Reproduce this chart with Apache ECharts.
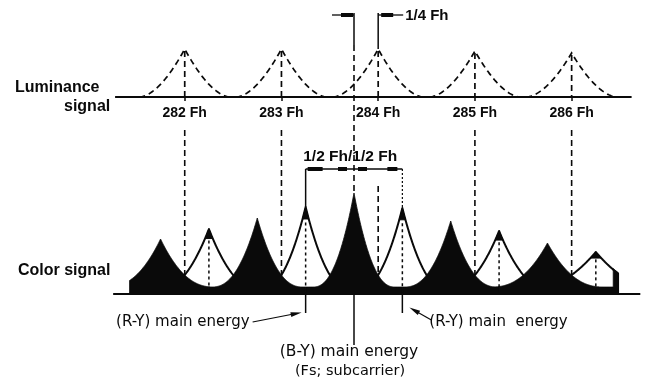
<!DOCTYPE html>
<html>
<head>
<meta charset="utf-8">
<script src="https://cdn.jsdelivr.net/npm/echarts@6/dist/echarts.min.js"></script>
<style>
  html, body { margin: 0; padding: 0; background: #fff; }
  #chart { width: 648px; height: 382px; }
</style>
</head>
<body>
<div id="chart"></div>
<script>
// Luminance spectrum: energy clusters at the line-frequency harmonics (n x Fh)
const lumaHarmonics = [282, 283, 284, 285, 286];
const lumaHeights = [48, 48, 48, 46, 44];

// Colour spectrum: B-Y main energy clusters (centre one is the sub-carrier, 283.75 Fh)
const byPositions = [281.75, 282.75, 283.75, 284.75, 285.75];
const byHeights = [54, 75, 100, 72, 50];

// R-Y main energy clusters, offset by 1/2 Fh from the B-Y ones
const ryPositions = [282.25, 283.25, 284.25, 285.25, 286.25];
const ryHeights = [64, 86, 85, 62, 41];

const subcarrier = 283.75;

// ---- drawing constants ----
const INK = '#0a0a0a';
const BOLD_FONT = '"Liberation Sans", Arial, sans-serif';
const TEXT_FONT = '"DejaVu Sans", "Liberation Sans", sans-serif';
const SHAPE_POW = 2.3;     // curvature of the cluster flanks
const LUMA_POW = 1.75;
const LUMA_REACH = 0.47;   // luminance cluster half-width, in Fh
const BY_REF = 12;         // B-Y flank level 1/4 Fh from its peak (above the floor)
const RY_REF = 18;         // R-Y flank level 1/4 Fh from its peak
const CHROMA_FLOOR = 6;    // continuous low-level chroma energy under the clusters
const END_CAP = 0.05;      // solid cut-off block at the right end of the colour band
const LUMA_SPAN = [281.28, 286.62];   // extent of the luminance base line
const COLOR_AXIS = [281.26, 286.71];  // extent of the colour base line
const COLOR_FILL = [281.43, 286.48];  // extent of the filled colour spectrum

// Cluster profile: a sharp peak whose flanks fall as (1 - d/reach)^p.
function cusp(amp, d, reach, p) {
  const s = Math.abs(d) / reach;
  return s >= 1 ? 0 : amp * Math.pow(1 - s, p);
}
// reach that makes a cluster of height `amp` pass through `ref` at 1/4 Fh
function reachFor(amp, ref, p) {
  return 0.25 / (1 - Math.pow(ref / amp, 1 / p));
}
function byEnvelope(x) {
  let s = CHROMA_FLOOR;
  for (let j = 0; j < byPositions.length; j++) {
    const amp = byHeights[j] - CHROMA_FLOOR;
    s += cusp(amp, x - byPositions[j], reachFor(amp, BY_REF, SHAPE_POW), SHAPE_POW);
  }
  return s;
}
function ryEnvelope(x) {
  let m = 0;
  for (let j = 0; j < ryPositions.length; j++) {
    m = Math.max(m, cusp(ryHeights[j], x - ryPositions[j], reachFor(ryHeights[j], RY_REF, SHAPE_POW), SHAPE_POW));
  }
  return m;
}
function samples(lo, hi, centre) {
  const out = [lo];
  for (let k = -250; k <= 250; k++) {
    const x = centre + k * 0.004;
    if (x > lo + 1e-9 && x < hi - 1e-9) out.push(x);
  }
  out.push(hi);
  return out;
}

const chart = echarts.init(document.getElementById('chart'), null, { renderer: 'canvas' });

const option = {
  animation: false,
  backgroundColor: '#fff',
  grid: [
    { left: 88, right: 28, top: 47, height: 50, containLabel: false, outerBoundsMode: 'none' },
    { left: 88, right: 28, top: 183, height: 110, containLabel: false, outerBoundsMode: 'none' }
  ],
  xAxis: [
    {
      type: 'value', gridIndex: 0, min: 281, max: 286.5, interval: 1,
      axisLine: { show: false }, splitLine: { show: false },
      axisTick: { show: true, customValues: lumaHarmonics, length: 4, lineStyle: { color: INK, width: 1.5 } },
      axisLabel: {
        customValues: lumaHarmonics,
        formatter: v => lumaHarmonics.indexOf(v) >= 0 ? v + ' Fh' : '',
        margin: 9, fontSize: 14, fontWeight: 'bold', fontFamily: BOLD_FONT, color: INK
      }
    },
    { type: 'value', gridIndex: 1, min: 281, max: 286.5, show: false }
  ],
  yAxis: [
    { type: 'value', gridIndex: 0, min: 0, max: 50, show: false },
    { type: 'value', gridIndex: 1, min: 0, max: 110, show: false }
  ],
  series: [
    {
      // luminance clusters: dashed cusps with a dashed centre line
      type: 'custom', name: 'Luminance', xAxisIndex: 0, yAxisIndex: 0, clip: false, z: 3,
      data: lumaHarmonics.map((f, i) => [f, lumaHeights[i]]),
      renderItem(params, api) {
        const f = api.value(0), h = api.value(1);
        const pts = [];
        for (let k = -60; k <= 60; k++) {
          const d = LUMA_REACH * k / 60;
          pts.push(api.coord([f + d, cusp(h, d, LUMA_REACH, LUMA_POW)]));
        }
        const top = api.coord([f, h]), base = api.coord([f, 0]);
        return {
          type: 'group',
          children: [
            { type: 'polyline', shape: { points: pts },
              style: { stroke: INK, lineWidth: 1.7, lineDash: [6, 4], fill: null } },
            { type: 'line', shape: { x1: top[0], y1: top[1] + 2, x2: base[0], y2: base[1] },
              style: { stroke: INK, lineWidth: 1.7, lineDash: [6, 4] } }
          ]
        };
      }
    },
    {
      // R-Y clusters: white cusps outlined in black, with a solid tip
      type: 'custom', name: 'R-Y', xAxisIndex: 1, yAxisIndex: 1, clip: false, z: 3,
      data: ryPositions.map((f, i) => [f, ryHeights[i]]),
      renderItem(params, api) {
        const f = api.value(0), h = api.value(1);
        const reach = reachFor(h, RY_REF, SHAPE_POW);
        const lo = Math.max(f - reach, COLOR_FILL[0]), hi = Math.min(f + reach, COLOR_FILL[1]);
        const pts = [api.coord([lo, 0])];
        const tip = [];
        samples(lo, hi, f).forEach(x => {
          const v = cusp(h, x - f, reach, SHAPE_POW);
          pts.push(api.coord([x, v]));
          if (v >= 0.85 * h) tip.push(api.coord([x, v]));
        });
        pts.push(api.coord([hi, 0]));
        return {
          type: 'group',
          children: [
            { type: 'polygon', shape: { points: pts },
              style: { fill: '#fff', stroke: INK, lineWidth: 2, lineJoin: 'round' } },
            { type: 'polygon', shape: { points: tip },
              style: { fill: INK, stroke: INK, lineWidth: 1, lineJoin: 'round' } }
          ]
        };
      }
    },
    {
      // B-Y clusters: solid black envelope; each item fills its own neighbourhood,
      // the outermost items run on to the ends of the colour band
      type: 'custom', name: 'B-Y', xAxisIndex: 1, yAxisIndex: 1, clip: false, z: 4,
      data: byPositions.map((f, i) => [f, byHeights[i]]),
      renderItem(params, api) {
        const f = api.value(0);
        const first = params.dataIndex === 0;
        const last = params.dataIndex === byPositions.length - 1;
        const lo = first ? COLOR_FILL[0] : f - 0.5;
        const hi = last ? COLOR_FILL[1] : f + 0.5;
        const capFrom = COLOR_FILL[1] - END_CAP;
        const pts = [api.coord([lo, 0])];
        let capped = false;
        samples(lo, hi, f).forEach(x => {
          if (last && x >= capFrom) {
            if (!capped) {
              pts.push(api.coord([capFrom, byEnvelope(capFrom)]));
              capped = true;
            }
            pts.push(api.coord([x, Math.max(byEnvelope(x), ryEnvelope(x) + 1)]));
          } else {
            pts.push(api.coord([x, byEnvelope(x)]));
          }
        });
        pts.push(api.coord([hi, 0]));
        return { type: 'polygon', shape: { points: pts },
          style: { fill: INK, stroke: INK, lineWidth: 0.8, lineJoin: 'round' } };
      }
    },
    {
      // dotted centre lines of the R-Y clusters
      type: 'custom', name: 'R-Y centre', xAxisIndex: 1, yAxisIndex: 1, clip: false, z: 5,
      data: ryPositions.map((f, i) => [f, ryHeights[i]]),
      renderItem(params, api) {
        const f = api.value(0), h = api.value(1);
        const top = api.coord([f, 0.82 * h]), base = api.coord([f, 0]);
        return { type: 'line', shape: { x1: top[0], y1: top[1], x2: base[0], y2: base[1] },
          style: { stroke: INK, lineWidth: 1.5, lineDash: [3, 3] } };
      }
    }
  ]
};
chart.setOption(option);

// ---- annotation layer, positioned from the axis scales ----
const p0 = (f, v) => chart.convertToPixel({ gridIndex: 0 }, [f, v]);
const p1 = (f, v) => chart.convertToPixel({ gridIndex: 1 }, [f, v]);
const xOf = f => p0(f, 0)[0];
const yLuma = p0(282, 0)[1];
const yColor = p1(282, 0)[1];

const els = [];
function seg(x1, y1, x2, y2, w, dash, z) {
  els.push({ type: 'line', z: z == null ? 50 : z, silent: true,
    shape: { x1, y1, x2, y2 },
    style: { stroke: INK, lineWidth: w || 1.5, lineDash: dash || null } });
}
function label(text, x, y, opts) {
  els.push({ type: 'text', z: 60, silent: true, x, y,
    style: Object.assign({ text, fill: INK, fontSize: 15, fontFamily: TEXT_FONT,
      align: 'left', verticalAlign: 'middle' }, opts || {}) });
}
function arrowHead(xTip, yTip, xFrom, yFrom, len, half) {
  const dx = xTip - xFrom, dy = yTip - yFrom, L = Math.hypot(dx, dy);
  const ux = dx / L, uy = dy / L;
  const bx = xTip - ux * len, by = yTip - uy * len;
  els.push({ type: 'polygon', z: 50, silent: true,
    shape: { points: [[xTip, yTip], [bx - uy * half, by + ux * half], [bx + uy * half, by - ux * half]] },
    style: { fill: INK } });
}

// base lines
seg(xOf(LUMA_SPAN[0]), yLuma, xOf(LUMA_SPAN[1]), yLuma, 2);
seg(xOf(COLOR_AXIS[0]), yColor + 1, xOf(COLOR_AXIS[1]), yColor + 1, 2);

const xs = xOf(subcarrier);
const xr1 = xOf(ryPositions[1]), xr2 = xOf(ryPositions[2]);
const hIdx = lumaHarmonics.indexOf(284);
const xh = xOf(284);

// luminance harmonics carried down into the colour spectrum
lumaHarmonics.forEach(h => {
  const x = xOf(h);
  const inside = h > ryPositions[1] && h < ryPositions[2];
  seg(x, inside ? 186 : 130, x, yColor, 1.6, [6, 4], 1);
});

// sub-carrier line: 1/4 Fh below the 284th harmonic
seg(xs, 13, xs, 45, 1.5);
seg(xs, 45, xs, p1(subcarrier, byHeights[2])[1], 1.6, [6, 4]);
seg(xh, 13, xh, p0(284, lumaHeights[hIdx])[1], 1.5);

// 1/4 Fh dimension
const yq = 15;
seg(xs - 22, yq, xs, yq, 1.3);
seg(xs - 13, yq, xs - 1, yq, 4);
seg(xh, yq, xh + 25, yq, 1.3);
seg(xh + 3, yq, xh + 15, yq, 4);
label('1/4 Fh', xh + 27, yq + 0.5, { fontFamily: BOLD_FONT, fontWeight: 'bold', fontSize: 15 });

// 1/2 Fh dimensions
const yh = 169;
seg(xr1, yh, xr2, yh, 1.5);
seg(xr1, yh, xr1, p1(ryPositions[1], ryHeights[1])[1], 1.5);
seg(xr2, yh, xr2, p1(ryPositions[2], ryHeights[2])[1], 1.2, [2, 2]);
seg(xr1 + 2, yh, xr1 + 17, yh, 4);
seg(xs - 16, yh, xs - 7, yh, 4);
seg(xs + 4, yh, xs + 13, yh, 4);
seg(xr2 - 15, yh, xr2 - 5, yh, 4);
label('1/2 Fh', xs - 6, 157, { fontFamily: BOLD_FONT, fontWeight: 'bold', fontSize: 15.5, align: 'right' });
label('/1/2 Fh', xs - 6, 157, { fontFamily: BOLD_FONT, fontWeight: 'bold', fontSize: 15.5 });

// main-energy markers below the colour spectrum
seg(xr1, yColor, xr1, 313, 1.5);
seg(xs, yColor, xs, 345, 1.5);
seg(xr2, yColor, xr2, 313, 1.5);

label('(R-Y) main energy', xr1 - 56, 322, { align: 'right' });
seg(xr1 - 53, 322, xr1 - 12, 314, 1.2);
arrowHead(xr1 - 4, 312.5, xr1 - 53, 322, 11, 2.4);

seg(xr2 + 29, 320, xr2 + 14, 311.5, 1.2);
arrowHead(xr2 + 7, 307.5, xr2 + 29, 320, 11, 2.4);
label('(R-Y) main  energy', xr2 + 27, 322);

label('(B-Y) main energy', xs - 5, 352, { align: 'center', fontSize: 15.5 });
label('(Fs; subcarrier)', xs - 4, 371, { align: 'center', fontSize: 14.5 });

// row titles
label('Luminance', 15, 88, { fontFamily: BOLD_FONT, fontWeight: 'bold', fontSize: 16 });
label('signal', 64, 107, { fontFamily: BOLD_FONT, fontWeight: 'bold', fontSize: 16 });
label('Color signal', 18, 271, { fontFamily: BOLD_FONT, fontWeight: 'bold', fontSize: 16 });

chart.setOption({ graphic: { elements: els } });
</script>
</body>
</html>
